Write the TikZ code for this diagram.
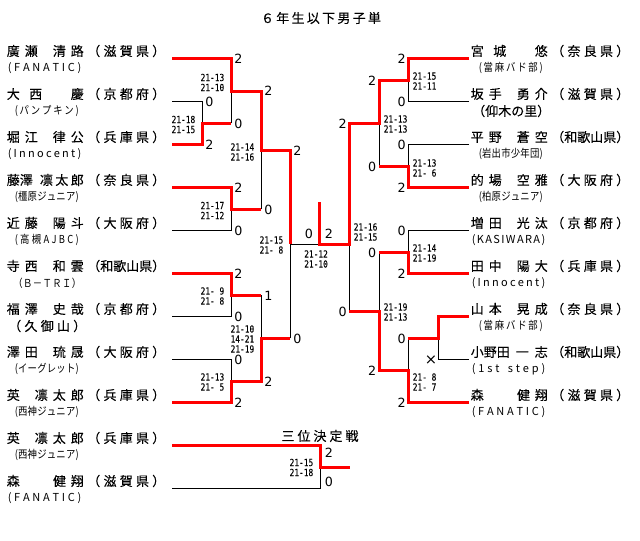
\documentclass[tikz,border=0pt]{standalone}
\usepackage{fontspec}
\newfontfamily\jp[FakeBold=0.12]{Noto Sans CJK JP}
\newfontfamily\jpn[FakeStretch=0.85]{Noto Sans CJK JP}
\newfontfamily\jpl{Noto Sans CJK JP}
\newfontfamily\scf[FakeStretch=0.8,FakeBold=0.1]{DejaVu Sans Mono}
\newfontfamily\djv{DejaVu Sans}
\newdimen\PX \PX=0.75pt
\makeatletter
\newcommand\spr[2]{\makebox[#1][s]{\spr@#2\@nil}}
\def\spr@#1#2\@nil{#1\if\relax\detokenize{#2}\relax\else\hfil\spr@#2\@nil\fi}
\makeatother
\newcommand\cbA[1]{\spr{73.5\PX}{#1}}
\newcommand\cbB[1]{\spr{64\PX}{#1}}
\newcommand\cbC[1]{\spr{78\PX}{#1}}
\newcommand\cbD[1]{\spr{68\PX}{#1}}
\newcommand\pl[7]{%
  \node[nm] (#1n) at (#2,#3-8) {\spr{77\PX}{#4}};
  \node[nm] (#1f) at (#2+80.5,#3-8) {\spr{78\PX}{#5}};
  \node[cl#6] (#1c) at (#2,#3+9) {\csname cb#6\endcsname{#7}};
}
\begin{document}
\begin{tikzpicture}[x=0.75pt,y=-0.75pt,
  nm/.style={anchor=west,inner sep=0pt,font=\jp\fontsize{9.75}{11}\selectfont},
  clA/.style={anchor=west,inner sep=0pt,xshift=0.75pt,font=\jpl\fontsize{8.25}{9}\selectfont},
  clB/.style={anchor=west,inner sep=0pt,xshift=6pt,font=\jpn\fontsize{8.25}{9}\selectfont},
  clC/.style={anchor=west,inner sep=0pt,xshift=1.125pt,font=\jp\fontsize{9.75}{11}\selectfont},
  clD/.style={anchor=west,inner sep=0pt,xshift=4.875pt,font=\jpn\fontsize{8.25}{10}\selectfont},
  gL/.style={anchor=west,inner sep=0pt,font=\djv\fontsize{9.5}{10}\selectfont},
  gR/.style={anchor=east,inner sep=0pt,font=\djv\fontsize{9.5}{10}\selectfont},
  gC/.style={inner sep=0pt,font=\djv\fontsize{9.5}{10}\selectfont},
  scL/.style={anchor=east,inner sep=0pt,align=right,font=\scf\fontsize{7.35}{7.5}\selectfont},
  scR/.style={anchor=west,inner sep=0pt,align=left,font=\scf\fontsize{7.35}{7.5}\selectfont},
  ttl/.style={inner sep=0pt,font=\jp\fontsize{9.75}{11}\selectfont},
  win/.style={draw=red,line width=2.25pt,line join=miter},
  lose/.style={draw=black,line width=0.75pt}]
\fill[white] (0,0) rectangle (640,541);
\useasboundingbox (0,0) rectangle (640,541);

% title
\node[ttl] (title) at (321,18) {\spr{120\PX}{６年生以下男子単}};
\node[ttl] (third) at (320,436) {\spr{77\PX}{三位決定戦}};

% players left
\pl{L1}{6.5}{59}{廣瀬\hfil 清路}{（滋賀県）}{A}{(FANATIC)}
\pl{L2}{6.5}{102}{大西\hfil 慶}{（京都府）}{B}{(パンプキン)}
\pl{L3}{6.5}{145}{堀江\hfil 律公}{（兵庫県）}{A}{(Innocent)}
\pl{L4}{6.5}{188}{{藤澤}\hfil{凛太郎}}{（奈良県）}{B}{(橿原ジュニア)}
\pl{L5}{6.5}{231}{近藤\hfil 陽斗}{（大阪府）}{B}{(高槻AJBC)}
\pl{L6}{6.5}{274}{寺西\hfil 和雲}{（和歌山県）}{D}{（Ｂ－ＴＲＩ）}
\pl{L7}{6.5}{317}{福澤\hfil 史哉}{（京都府）}{C}{（久御山）}
\pl{L8}{6.5}{360}{澤田\hfil 琉晟}{（大阪府）}{B}{(イーグレット)}
\pl{L9}{6.5}{403}{英\hfil 凛太郎}{（兵庫県）}{B}{(西神ジュニア)}
% players right
\pl{R1}{470.5}{59}{宮城\hfil 悠}{（奈良県）}{B}{(當麻バド部)}
\pl{R2}{470.5}{102}{坂手\hfil 勇介}{（滋賀県）}{C}{（仰木の里）}
\pl{R3}{470.5}{145}{平野\hfil 蒼空}{（和歌山県）}{B}{(岩出市少年団)}
\pl{R4}{470.5}{188}{的場\hfil 空雅}{（大阪府）}{B}{(柏原ジュニア)}
\pl{R5}{470.5}{231}{増田\hfil 光汰}{（京都府）}{A}{(KASIWARA)}
\pl{R6}{470.5}{274}{田中\hfil 陽大}{（兵庫県）}{A}{(Innocent)}
\pl{R7}{470.5}{317}{山本\hfil 晃成}{（奈良県）}{B}{(當麻バド部)}
\pl{R8}{470.5}{360}{{小野田}\hfil 一\hfil 志}{（和歌山県）}{A}{(1st\hfil step)}
\pl{R9}{470.5}{403}{森\hfil\hfil\hfil 健翔}{（滋賀県）}{A}{(FANATIC)}
% third place players
\pl{T1}{6.5}{446}{英\hfil 凛太郎}{（兵庫県）}{B}{(西神ジュニア)}
\pl{T2}{6.5}{489}{森\hfil\hfil\hfil 健翔}{（滋賀県）}{A}{(FANATIC)}

% line starts
\coordinate (pL1) at (172,59);  \coordinate (pL2) at (172,102);
\coordinate (pL3) at (172,145); \coordinate (pL4) at (172,188);
\coordinate (pL5) at (172,231); \coordinate (pL6) at (172,274);
\coordinate (pL7) at (172,317); \coordinate (pL8) at (172,360);
\coordinate (pL9) at (172,403);
\coordinate (pR1) at (469,59);  \coordinate (pR2) at (469,102);
\coordinate (pR3) at (469,145); \coordinate (pR4) at (469,188);
\coordinate (pR5) at (469,231); \coordinate (pR6) at (469,274);
\coordinate (pR7) at (469,317); \coordinate (pR8) at (469,360);
\coordinate (pR9) at (469,403);
\coordinate (t1) at (172,446); \coordinate (t2) at (172,489);
% match points
\coordinate (m1) at (202,123.5);
\coordinate (m2) at (231,91.25);
\coordinate (m3) at (231,209.5);
\coordinate (m4) at (261,150.4);
\coordinate (m5) at (231,295.5);
\coordinate (m6) at (231,381.5);
\coordinate (m7) at (261,338.5);
\coordinate (sfL) at (290,244.4);
\coordinate (r1) at (408,80.5);
\coordinate (r2) at (408,166.5);
\coordinate (r3) at (379,123.5);
\coordinate (r4) at (408,252.5);
\coordinate (r5) at (438,338.5);
\coordinate (r6) at (408,370.75);
\coordinate (r7) at (379,311.6);
\coordinate (sfR) at (349,244.4);
\coordinate (fin) at (319,244.4);
\coordinate (champ) at (319,202);
\coordinate (tm) at (320,467.5);
\coordinate (tw) at (350,467.5);

% losing lines
\path[lose] (pL2) -| (m1);
\path[lose] (m1 -| m2) -- (m2);
\path[lose] (pL5) -| (m3);
\path[lose] (m3 -| m4) -- (m4);
\path[lose] (pL7) -| (m5);
\path[lose] (m5 -| m7) -- (m7);
\path[lose] (pL8) -| (m6);
\path[lose] (m7 -| sfL) -- (sfL);
\path[lose] (sfL) -- (fin);
\path[lose] (pR2) -| (r1);
\path[lose] (pR3) -| (r2);
\path[lose] (r2 -| r3) -- (r3);
\path[lose] (pR5) -| (r4);
\path[lose] (r4 -| r7) -- (r7);
\path[lose] (pR8) -| (r5);
\path[lose] (r5 -| r6) -- (r6);
\path[lose] (r7 -| sfR) -- (sfR);
\path[lose] (t2) -| (tm);

% winning lines
\path[win] (pL1) -| (m2) -| (m4) -| (sfL);
\path[win] (pL3) -| (m1) -- (m1 -| m2);
\path[win] (pL4) -| (m3) -- (m3 -| m4);
\path[win] (pL6) -| (m5) -- (m5 -| m7);
\path[win] (pL9) -| (m6) -| (m7) -- (m7 -| sfL);
\path[win] (pR1) -| (r1) -| (r3) -| (sfR) -- (fin) -- (champ);
\path[win] (pR4) -| (r2) -- (r2 -| r3);
\path[win] (pR6) -| (r4) -- (r4 -| r7);
\path[win] (pR7) -| (r5) -- (r5 -| r6);
\path[win] (pR9) -| (r6) -| (r7) -- (r7 -| sfR);
\path[win] (t1) -| (tm) -- (tw);

% game counts left
\node[gL] (gm1a) at (205,102) {0};
\node[gL] (gm1b) at (205,145) {2};
\node[gL] (gm2a) at (234,59) {2};
\node[gL] (gm2b) at (234,123.5) {0};
\node[gL] (gm3a) at (234,188) {2};
\node[gL] (gm3b) at (234,231) {0};
\node[gL] (gm4a) at (264,91.25) {2};
\node[gL] (gm4b) at (264,209.5) {0};
\node[gL] (gm5a) at (234,274) {2};
\node[gL] (gm5b) at (234,317) {0};
\node[gL] (gm6a) at (234,360) {0};
\node[gL] (gm6b) at (234,403) {2};
\node[gL] (gm7a) at (264,295.5) {1};
\node[gL] (gm7b) at (264,381.5) {2};
\node[gL] (gsLa) at (293,150.4) {2};
\node[gL] (gsLb) at (293,338.5) {0};
% game counts right
\node[gR] (gr1a) at (406,59) {2};
\node[gR] (gr1b) at (406,102) {0};
\node[gR] (gr2a) at (406,145) {0};
\node[gR] (gr2b) at (406,188) {2};
\node[gR] (gr3a) at (376.5,80.5) {2};
\node[gR] (gr3b) at (376.5,166.5) {0};
\node[gR] (gr4a) at (406,231) {0};
\node[gR] (gr4b) at (406,274) {2};
\node[gR,font=\djv\fontsize{11}{12}\selectfont] (gr5b) at (437.5,360) {×};
\node[gR] (gr6a) at (406,338.5) {0};
\node[gR] (gr6b) at (406,403) {2};
\node[gR] (gr7a) at (376.5,252.5) {0};
\node[gR] (gr7b) at (376.5,370.75) {2};
\node[gR] (gsRa) at (347,123.5) {2};
\node[gR] (gsRb) at (347,311.6) {0};
% final and third place counts
\node[gC] (gfa) at (309,234) {0};
\node[gC] (gfb) at (329,234) {2};
\node[gL] (gta) at (324.5,453) {2};
\node[gL] (gtb) at (324.5,481.5) {0};

% game scores left
\node[scL] (sm1) at (195.5,124.5) {21-18\\21-15};
\node[scL] (sm2) at (224.5,82.5) {21-13\\21-10};
\node[scL] (sm3) at (224.5,210.5) {21-17\\21-12};
\node[scL] (sm4) at (254.5,152) {21-14\\21-16};
\node[scL] (sm5) at (224.5,296) {21-\hphantom{0}9\\21-\hphantom{0}8};
\node[scL] (sm6) at (224.5,382) {21-13\\21-\hphantom{0}5};
\node[scL] (sm7) at (254.5,339) {21-10\\14-21\\21-19};
\node[scL] (ssL) at (283.5,245) {21-15\\21-\hphantom{0}8};
% game scores right
\node[scR] (sr1) at (412.5,81) {21-15\\21-11};
\node[scR] (sr2) at (412.5,168) {21-13\\21-\hphantom{0}6};
\node[scR] (sr3) at (383.5,124) {21-13\\21-13};
\node[scR] (sr4) at (412.5,253) {21-14\\21-19};
\node[scR] (sr6) at (412.5,382) {21-\hphantom{0}8\\21-\hphantom{0}7};
\node[scR] (sr7) at (383.5,312) {21-19\\21-13};
\node[scR] (ssR) at (353.5,232) {21-16\\21-15};
\node[scR] (sfn) at (304,259) {21-12\\21-10};
\node[scL] (stp) at (313.5,467.5) {21-15\\21-18};
\end{tikzpicture}
\end{document}
